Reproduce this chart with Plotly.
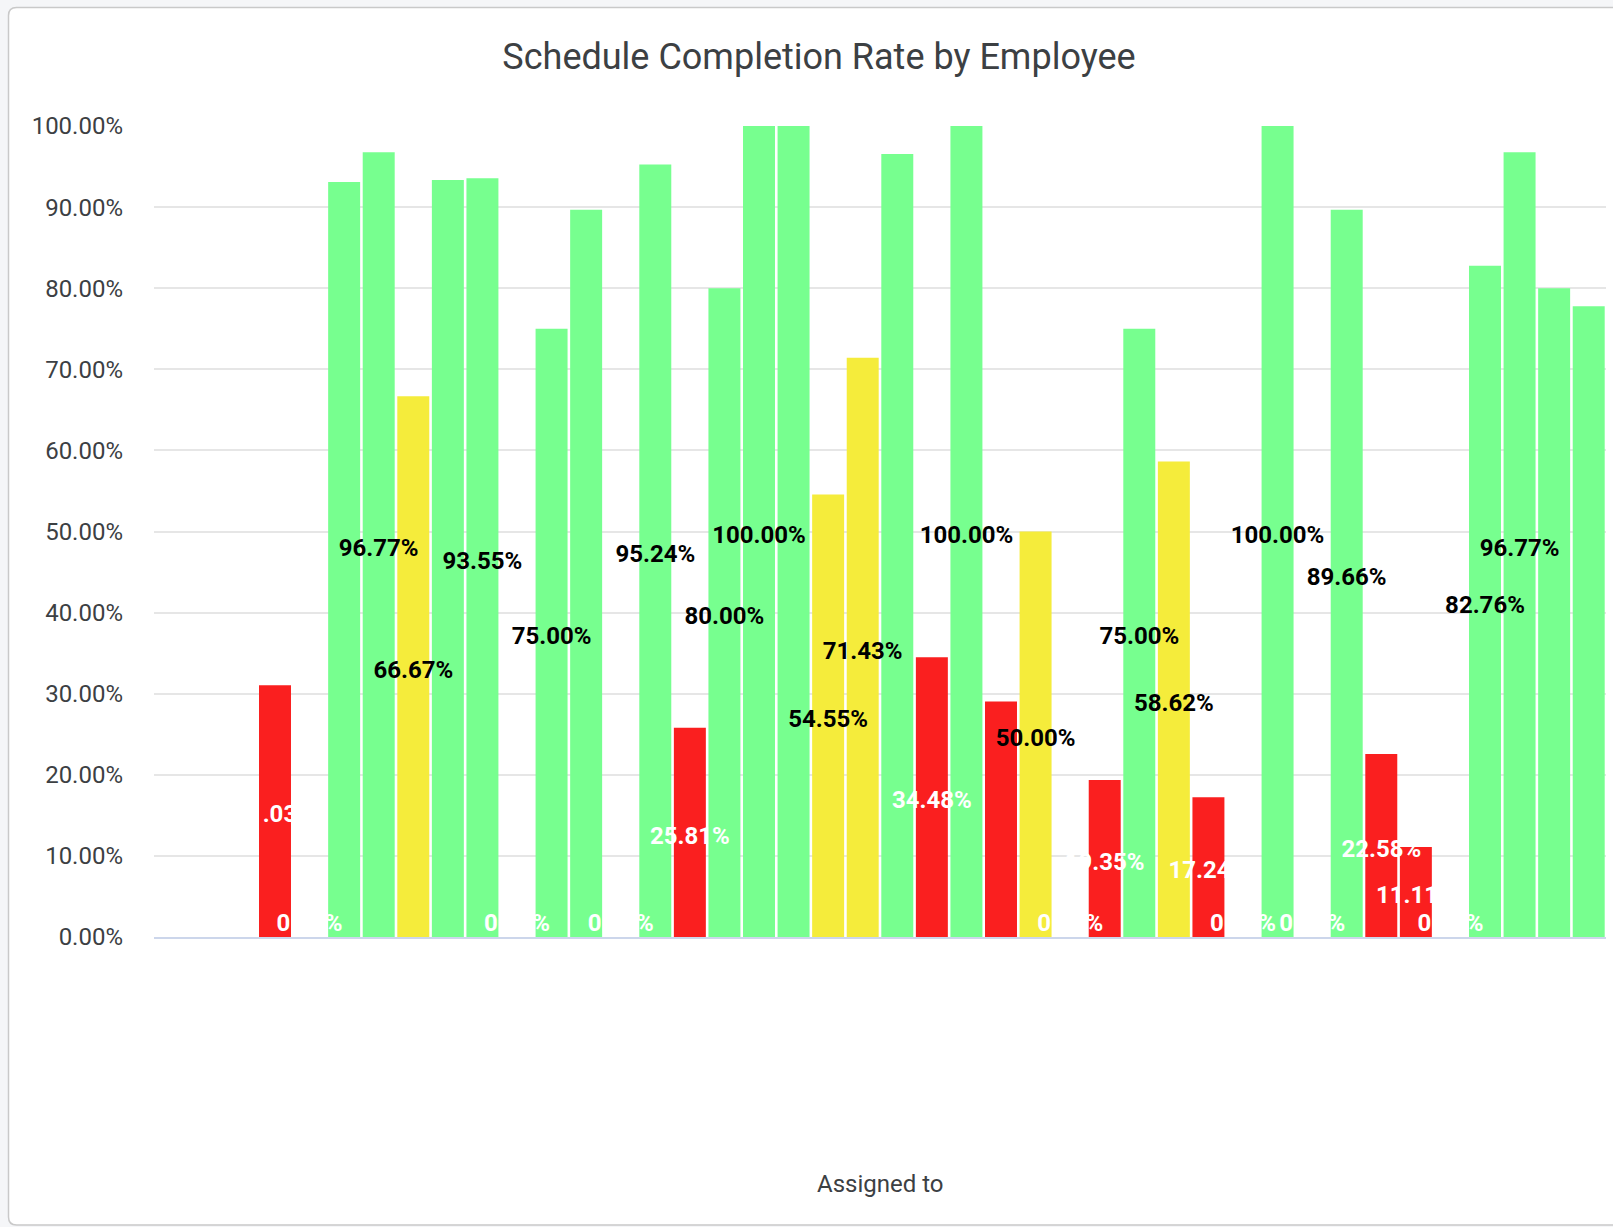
import plotly.graph_objects as go

# ---- data ----
slots = list(range(42))  # employee positions (names not shown in the reference)
completion = [0, 0, 0, 31.03, 0, 93.10, 96.77, 66.67, 93.33, 93.55,
              0, 75.00, 89.66, 0, 95.24, 25.81, 80.00, 100.00, 100.00, 54.55,
              71.43, 96.55, 34.48, 100.00, 29.03, 50.00, 0, 19.35, 75.00, 58.62,
              17.24, 0, 100.00, 0, 89.66, 22.58, 11.11, 0, 82.76, 96.77,
              80.00, 77.78]
# data labels that remain visible (others hidden by overlap in the original)
label_visible = [False, False, False, True, True, False, True, True, False, True,
                 True, True, False, True, True, True, True, True, False, True,
                 True, False, True, True, False, True, True, True, True, True,
                 True, True, True, True, True, True, True, True, True, True,
                 False, False]
y_ticks = [0, 10, 20, 30, 40, 50, 60, 70, 80, 90, 100]
y_tick_text = [f"{v:.2f}%" for v in y_ticks]

RED, YELLOW, GREEN = "#fa1f1f", "#f5ec3b", "#77ff8f"

def bar_color(v):
    if v < 50:
        return RED
    if v < 75:
        return YELLOW
    return GREEN

colors = [bar_color(v) for v in completion]
label_colors = ["#ffffff" if v < 50 else "#000000" for v in completion]
label_text = [f"{v:.2f}%" if show else "" for v, show in zip(completion, label_visible)]
label_y = [v / 2 - 0.65 if v > 0 else 0 for v in completion]
label_pos = ["top center" if v == 0 else "middle center" for v in completion]

W, H = 1613, 1227
ML, MR, MT, MB = 154, 7, 126, 290
PW, PH = W - ML - MR, H - MT - MB

def px_x(x):
    return (x - ML) / PW

def px_y(y):
    return (H - MB - y) / PH

fig = go.Figure()
fig.add_trace(go.Bar(
    x=slots, y=completion, marker=dict(color=colors, line=dict(width=0)),
    hoverinfo="skip", showlegend=False,
))
fig.add_trace(go.Scatter(
    x=slots, y=label_y, mode="text", text=label_text, textposition=label_pos,
    textfont=dict(family="Roboto", size=24, color=label_colors, weight="bold"),
    hoverinfo="skip", showlegend=False, cliponaxis=False,
))

# card background with rounded corners
x0, x1 = px_x(8.5), px_x(1660)
y0, y1 = px_y(7.5), px_y(1225)
rx, ry = 8 / PW, 8 / PH
path = (f"M {x0},{y0 - ry} Q {x0},{y0} {x0 + rx},{y0} L {x1},{y0} L {x1},{y1} "
        f"L {x0 + rx},{y1} Q {x0},{y1} {x0},{y1 + ry} Z")
fig.add_shape(type="path", path=path, xref="paper", yref="paper",
              fillcolor="#ffffff", line=dict(color="#c9c9c9", width=1.5), layer="below")

fig.add_annotation(text="Assigned to", xref="paper", yref="paper",
                   x=0.5, y=px_y(1184), xanchor="center", yanchor="middle",
                   showarrow=False, font=dict(family="Roboto", size=24, color="#3c4043"))

fig.update_layout(
    width=W, height=H,
    margin=dict(l=ML, r=MR, t=MT, b=MB),
    paper_bgcolor="#f5f6f8", plot_bgcolor="rgba(0,0,0,0)",
    bargap=0.075,
    title=dict(text="Schedule Completion Rate by Employee", x=819 / W, xanchor="center",
               xref="container", yref="container", y=1 - 56 / H, yanchor="middle",
               font=dict(family="Roboto", size=36, color="#3c4043")),
    font=dict(family="Roboto", color="#3c4043"),
    xaxis=dict(range=[-0.5, 41.5], showticklabels=False, showgrid=False, zeroline=False,
               showline=True, linecolor="#ccd6eb", linewidth=2, ticks=""),
    yaxis=dict(range=[0, 100], tickmode="array", tickvals=y_ticks, ticktext=y_tick_text,
               tickfont=dict(family="Roboto", size=24, color="#3c4043"),
               showgrid=True, gridcolor="#e6e6e6", gridwidth=2, zeroline=False,
               ticks="", ticklabelstandoff=30),
)

fig.write_html(
    "out.html",
    config={"displayModeBar": False},
    post_script="document.body.style.margin='0';document.body.style.background='#f5f6f8';",
)
